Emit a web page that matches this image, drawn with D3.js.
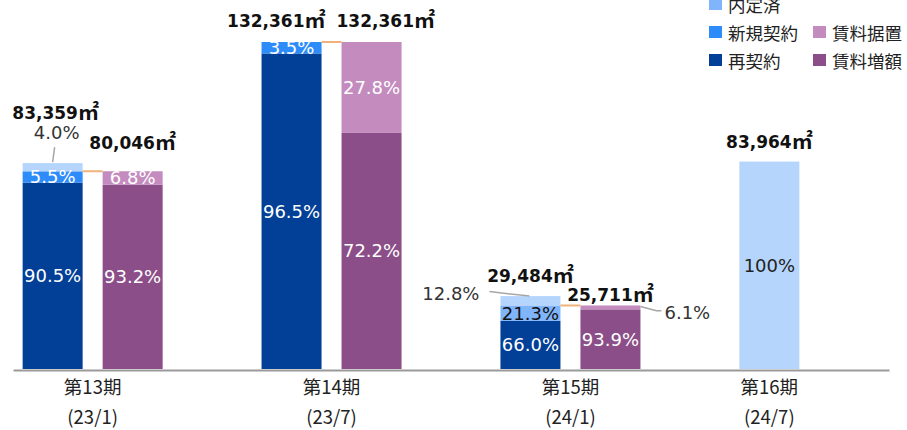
<!DOCTYPE html>
<html><head><meta charset="utf-8">
<script src="https://cdn.jsdelivr.net/npm/d3@7"></script>
<style>body{margin:0;background:#fff}</style>
</head><body><svg id="c" width="907" height="430"></svg>
<script>
// ---- data ----
const categories = ["第13期","第14期","第15期","第16期"];
const periods = ["(23/1)","(23/7)","(24/1)","(24/7)"];
const leaseArea = [83359,132361,29484,83964];     // 再契約側 合計(㎡)
const rentArea  = [80046,132361,25711,null];      // 賃料側 合計(㎡)
const renewalPct   = [90.5,96.5,66.0,0];
const newLeasePct  = [5.5,3.5,0,0];
const committedPct = [0,0,21.3,0];
const pendingPct   = [4.0,0,12.8,100];
const rentUpPct    = [93.2,72.2,93.9,null];
const rentFlatPct  = [6.8,27.8,6.1,null];
const legendItems = [
  {name:"内定済", key:"committed", col:0, row:0},
  {name:"新規契約", key:"newLease", col:0, row:1},
  {name:"賃料据置", key:"rentFlat", col:1, row:1},
  {name:"再契約", key:"renewal", col:0, row:2},
  {name:"賃料増額", key:"rentUp", col:1, row:2}
];

// ---- styles ----
const colors = {renewal:"#023f97", newLease:"#2e8cfa", committed:"#80b4fb", pending:"#b6d5fc",
                rentUp:"#8b4e88", rentFlat:"#c38bbe"};
const textColors = {renewal:"#fff", newLease:"#fff", committed:"#111", pending:"#222", rentUp:"#fff", rentFlat:"#fff"};
const numFont = "'DejaVu Sans', Verdana, sans-serif";
const jpFont = "'Noto Sans CJK JP', sans-serif";

const svg = d3.select("#c");
const x = d3.scalePoint().domain(categories).range([13, 889]).padding(1/3);
const y = d3.scaleLinear().domain([0, d3.max(leaseArea)]).range([369, 42]);
const barW = 60, offset = 40;

const fmtPct = v => v === 100 ? "100%" : v.toFixed(1) + "%";
const fmtNum = d3.format(",");

// build stacks
const groups = categories.map((c, i) => {
  const lease = [
    {key:"renewal", pct:renewalPct[i]},
    {key:"newLease", pct:newLeasePct[i]},
    {key:"committed", pct:committedPct[i]},
    {key:"pending", pct:pendingPct[i]}
  ];
  const rent = rentArea[i] == null ? null : [
    {key:"rentUp", pct:rentUpPct[i]},
    {key:"rentFlat", pct:rentFlatPct[i]}
  ];
  const bars = [];
  bars.push({side:"lease", total:leaseArea[i], segs:lease});
  if (rent) bars.push({side:"rent", total:rentArea[i], segs:rent});
  return {cat:c, i, bars};
});

// outside-label callouts and total-label nudges (annotation layout)
const callouts = {
  "0-pending": {anchor:"middle", tx:4, ty:-24, line:[[2,-16],[0,-1]]},
  "2-pending": {anchor:"end", tx:-51, ty:3.5, line:[[-41,-4.5],[-1,0]]},
  "2-rentFlat": {anchor:"start", tx:54, ty:13.5, line:[[30,1],[46,5.2],[51,5.2]]}
};
const totalNudge = {
  "0-lease": {dx:3, dy:-44, anchor:"middle"},
  "0-rent": {dx:0, dy:-22, anchor:"middle"},
  "1-lease": {dx:34, dy:-15, anchor:"end"},
  "1-rent": {dx:-35, dy:-15, anchor:"start"},
  "2-lease": {dx:0, dy:-14, anchor:"middle"},
  "2-rent": {dx:0, dy:-4.5, anchor:"middle"},
  "3-lease": {dx:0, dy:-14, anchor:"middle"}
};

// axis
const axis = svg.append("g").attr("transform", "translate(0,370)")
  .call(d3.axisBottom(x).tickSize(0).tickSizeOuter(0).tickFormat(""));
axis.select(".domain").attr("stroke", "#9a9a9a").attr("stroke-width", 2);

const gBars = svg.append("g");
const gLbl = svg.append("g");

groups.forEach(g => {
  const cx = x(g.cat);
  const n = g.bars.length;
  g.bars.forEach((b, bi) => {
    const bc = cx + (bi === 0 ? -offset : offset);
    let cum = 0;
    b.segs.forEach(s => {
      if (!s.pct) return;
      const y0 = y(b.total * cum / 100), y1 = y(b.total * (cum + s.pct) / 100);
      cum += s.pct;
      gBars.append("rect").attr("x", bc - barW/2).attr("width", barW)
        .attr("y", y1).attr("height", y0 - y1).attr("fill", colors[s.key]);
      const key = g.i + "-" + s.key;
      if (callouts[key]) {
        const co = callouts[key];
        const pts = co.line.map(p => [bc + p[0], y1 + p[1]]);
        gLbl.append("path").attr("d", d3.line()(pts)).attr("fill", "none")
          .attr("stroke", "#a6a6a6").attr("stroke-width", 1.5);
        gLbl.append("text").attr("x", bc + co.tx).attr("y", y1 + co.ty)
          .attr("text-anchor", co.anchor).attr("font-family", numFont).attr("font-size", 18)
          .attr("fill", "#333").text(fmtPct(s.pct));
      } else {
        gLbl.append("text").attr("x", bc).attr("y", (y0 + y1) / 2)
          .attr("text-anchor", "middle").attr("dominant-baseline", "central")
          .attr("font-family", numFont).attr("font-size", 18)
          .attr("fill", textColors[s.key]).text(fmtPct(s.pct));
      }
    });
    const tn = totalNudge[g.i + "-" + b.side];
    const t = gLbl.append("text").attr("x", bc + tn.dx).attr("y", y(b.total) + tn.dy)
      .attr("text-anchor", tn.anchor).attr("font-family", numFont).attr("font-size", 17)
      .attr("font-weight", "bold").attr("fill", "#111");
    t.append("tspan").text(fmtNum(b.total));
    t.append("tspan").attr("font-family", jpFont).attr("font-size", 21).text("㎡");
  });
  // connector
  if (n === 2) {
    const yr = y(g.bars[1].total);
    gBars.append("line").attr("x1", cx - offset + barW/2).attr("x2", cx + offset - barW/2)
      .attr("y1", yr).attr("y2", yr).attr("stroke", "#f0b27a").attr("stroke-width", 2);
  }
  // category labels
  const lx = n === 2 ? cx : cx - offset;
  svg.append("text").attr("x", lx).attr("y", 394).attr("text-anchor", "middle")
    .attr("font-family", jpFont).attr("font-size", 18.5).attr("fill", "#222").text(g.cat);
  svg.append("text").attr("x", lx).attr("y", 424).attr("text-anchor", "middle")
    .attr("font-family", jpFont).attr("font-size", 18.5).attr("fill", "#222").text(periods[g.i]);
});

// legend
const lg = svg.append("g");
legendItems.forEach(d => {
  const lx = 709 + d.col * 104, ly = 4 + d.row * 28;
  lg.append("rect").attr("x", lx).attr("y", ly - 6).attr("width", 13).attr("height", 12)
    .attr("fill", colors[d.key]);
  lg.append("text").attr("x", lx + 19).attr("y", ly).attr("dominant-baseline", "central")
    .attr("font-family", jpFont).attr("font-size", 17.5).attr("fill", "#222").text(d.name);
});
</script></body></html>
